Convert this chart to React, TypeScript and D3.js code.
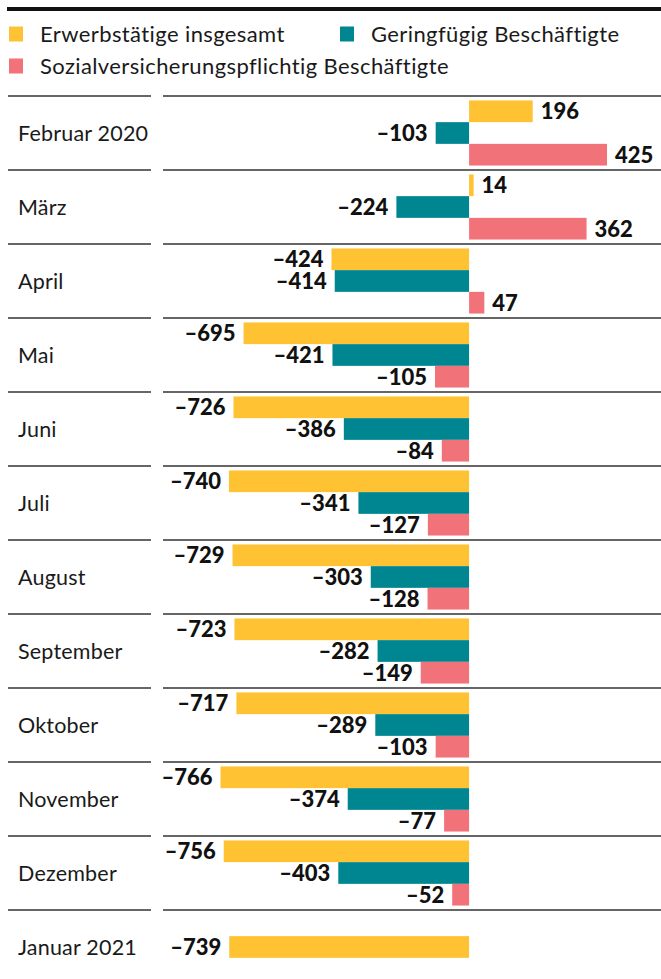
import React from "react";
import * as d3 from "d3";

const months = [
  "Februar 2020", "März", "April", "Mai", "Juni", "Juli", "August",
  "September", "Oktober", "November", "Dezember", "Januar 2021",
];
const erwerbstaetige: (number | null)[] = [196, 14, -424, -695, -726, -740, -729, -723, -717, -766, -756, -739];
const geringfuegig: (number | null)[] = [-103, -224, -414, -421, -386, -341, -303, -282, -289, -374, -403, null];
const sozialversichert: (number | null)[] = [425, 362, 47, -105, -84, -127, -128, -149, -103, -77, -52, null];

const seriesNames = ["Erwerbstätige insgesamt", "Geringfügig Beschäftigte", "Sozialversicherungspflichtig Beschäftigte"];
const seriesColors = ["#fec232", "#008691", "#f2727a"];

const W = 661;
const H = 979;
const FONT = "Lato, 'Source Sans Pro', sans-serif";

export default function App() {
  const series = [erwerbstaetige, geringfuegig, sozialversichert];
  const x = d3.scaleLinear().domain([-766, 425]).range([220.5, 607]);
  const y = d3.scaleBand<string>().domain(months).range([96, 96 + 74 * months.length]);
  const rowH = y.bandwidth();
  const barH = 21.7;
  const fmt = (v: number) => (v < 0 ? "–" + Math.abs(v) : String(v));

  return (
    <div style={{ position: "absolute", left: 0, top: 0 }}>
      <svg width={W} height={H} style={{ display: "block", fontFamily: FONT }}>
        <rect x={0} y={0} width={W} height={H} fill="#fff" />
        <line x1={7} x2={W} y1={9} y2={9} stroke="#111" strokeWidth={4} />
        {/* legend */}
        {[
          { i: 0, lx: 9, ly: 34 },
          { i: 1, lx: 340, ly: 34 },
          { i: 2, lx: 9, ly: 66 },
        ].map(({ i, lx, ly }) => (
          <g key={i}>
            <rect x={lx} y={ly - 7.5} width={14} height={15} fill={seriesColors[i]} />
            <text x={lx + 31} y={ly} dy="0.35em" fontSize={22} letterSpacing={0.4} fill="#1a1a1a">
              {seriesNames[i]}
            </text>
          </g>
        ))}
        {months.map((m, mi) => {
          const top = y(m)!;
          const vals = series.map((s) => s[mi]);
          const present = vals.map((v, i) => ({ v, i })).filter((d) => d.v !== null) as { v: number; i: number }[];
          const groupH = barH * present.length;
          const start = top + (rowH - groupH) / 2;
          return (
            <g key={m}>
              <line x1={8} x2={151} y1={top} y2={top} stroke="#333" strokeWidth={1.5} />
              <line x1={163} x2={W} y1={top} y2={top} stroke="#333" strokeWidth={1.5} />
              <text x={18} y={top + rowH / 2} dy="0.35em" fontSize={21.5} letterSpacing={0.2} fill="#1a1a1a">
                {m}
              </text>
              {present.map((d, k) => {
                const by = start + k * barH;
                const x0 = x(Math.min(0, d.v));
                const x1 = x(Math.max(0, d.v));
                const neg = d.v < 0;
                return (
                  <g key={d.i}>
                    <rect x={x0} y={by} width={x1 - x0} height={barH} fill={seriesColors[d.i]} />
                    <text
                      x={neg ? x0 - 8 : x1 + 8}
                      y={by + barH / 2}
                      dy="0.36em"
                      textAnchor={neg ? "end" : "start"}
                      fontSize={22}
                      fontWeight="900"
                      fill="#111"
                    >
                      {fmt(d.v)}
                    </text>
                  </g>
                );
              })}
            </g>
          );
        })}
      </svg>
    </div>
  );
}
